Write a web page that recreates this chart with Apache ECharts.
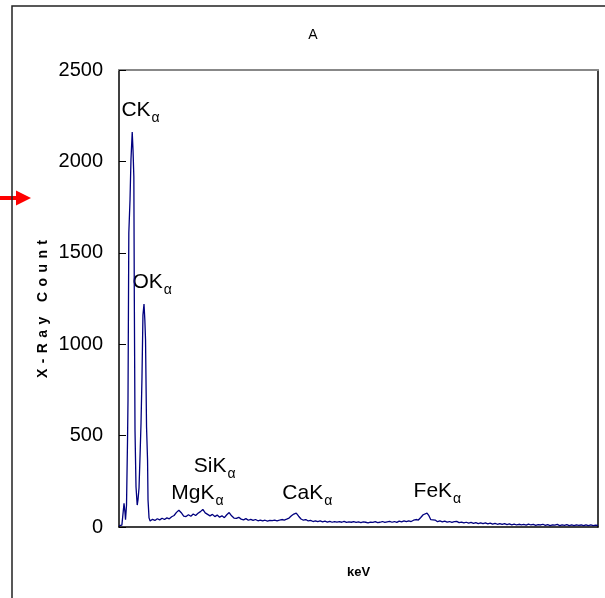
<!DOCTYPE html>
<html>
<head>
<meta charset="utf-8">
<script src="https://cdn.jsdelivr.net/npm/echarts@6/dist/echarts.min.js"></script>
<style>
  html, body { margin: 0; padding: 0; background: #fff; }
  #main { width: 605px; height: 598px; }
</style>
</head>
<body>
<div id="main"></div>
<script>
// EDS spectrum: [keV, X-ray count]
var spectrum = [
  [0.00, 8], [0.06, 10], [0.084, 15], [0.105, 130], [0.125, 80], [0.136, 40],
  [0.157, 120], [0.178, 475], [0.188, 695], [0.205, 1608], [0.23, 1790],
  [0.25, 2010], [0.276, 2160], [0.293, 2060], [0.31, 1915], [0.32, 1240],
  [0.334, 530], [0.355, 220], [0.38, 120], [0.397, 150], [0.418, 213],
  [0.443, 420], [0.46, 570], [0.48, 820], [0.50, 1160], [0.522, 1220],
  [0.54, 1130], [0.554, 1023], [0.575, 547], [0.596, 367], [0.606, 148],
  [0.627, 50], [0.65, 33],
  [0.70, 42], [0.75, 36], [0.80, 45], [0.85, 39], [0.90, 48], [0.95, 41],
  [1.00, 50], [1.05, 45], [1.10, 56], [1.15, 63], [1.20, 80], [1.25, 92],
  [1.30, 78], [1.35, 60], [1.40, 57], [1.45, 67], [1.50, 59], [1.55, 71],
  [1.60, 63], [1.65, 75], [1.70, 84], [1.75, 96], [1.80, 77], [1.85, 69],
  [1.90, 61], [1.95, 69], [2.00, 57], [2.05, 65], [2.10, 54], [2.15, 61],
  [2.20, 51], [2.25, 67], [2.30, 79], [2.35, 61], [2.40, 49], [2.45, 47],
  [2.50, 53], [2.55, 43], [2.60, 39], [2.65, 46], [2.70, 37], [2.75, 42],
  [2.80, 36], [2.85, 41], [2.90, 34], [2.95, 38], [3.00, 33], [3.05, 37],
  [3.10, 32], [3.15, 36], [3.20, 35], [3.25, 38], [3.30, 34], [3.35, 37],
  [3.40, 41], [3.45, 38], [3.50, 43], [3.55, 49], [3.60, 61], [3.65, 71],
  [3.70, 76], [3.75, 59], [3.80, 44], [3.85, 37], [3.90, 41], [3.95, 33],
  [4.00, 36], [4.05, 30], [4.10, 34], [4.15, 29], [4.20, 33], [4.25, 28],
  [4.30, 32], [4.35, 27], [4.40, 31], [4.45, 26], [4.50, 30], [4.55, 27],
  [4.60, 29], [4.65, 26], [4.70, 31], [4.75, 25], [4.80, 28], [4.85, 26],
  [4.90, 29], [4.95, 25], [5.00, 28], [5.05, 24], [5.10, 28], [5.15, 26],
  [5.20, 23], [5.25, 27], [5.30, 25], [5.35, 29], [5.40, 24], [5.45, 26],
  [5.50, 30], [5.55, 25], [5.60, 28], [5.65, 31], [5.70, 26], [5.75, 30],
  [5.80, 25], [5.85, 32], [5.90, 28], [5.95, 33], [6.00, 29], [6.05, 34],
  [6.10, 30], [6.15, 37], [6.20, 41], [6.25, 38], [6.30, 52], [6.35, 67],
  [6.43, 76], [6.47, 62], [6.51, 40], [6.55, 33], [6.60, 38], [6.65, 29],
  [6.70, 33], [6.75, 28], [6.80, 32], [6.85, 27], [6.90, 30], [6.95, 25],
  [7.00, 29], [7.05, 31], [7.10, 24], [7.15, 27], [7.20, 22], [7.25, 26],
  [7.30, 21], [7.35, 25], [7.40, 20], [7.45, 24], [7.50, 19], [7.55, 23],
  [7.60, 18], [7.65, 22], [7.70, 17], [7.75, 21], [7.80, 16], [7.85, 20],
  [7.90, 15], [7.95, 19], [8.00, 14], [8.05, 18], [8.10, 13], [8.15, 17],
  [8.20, 12], [8.25, 16], [8.30, 11], [8.35, 15], [8.40, 12], [8.45, 14],
  [8.50, 10], [8.55, 16], [8.60, 11], [8.65, 14], [8.70, 9], [8.75, 13],
  [8.80, 11], [8.85, 15], [8.90, 9], [8.95, 13], [9.00, 8], [9.05, 12],
  [9.10, 10], [9.15, 14], [9.20, 8], [9.25, 12], [9.30, 9], [9.35, 13],
  [9.40, 8], [9.45, 11], [9.50, 7], [9.55, 12], [9.60, 9], [9.65, 11],
  [9.70, 7], [9.75, 12], [9.80, 8], [9.85, 11], [9.90, 7], [9.95, 10],
  [10.0, 9]
];

var yTicks = [0, 500, 1000, 1500, 2000, 2500];

// peak labels: left edge (keV) and cap centre (count)
var peakNames = ['CK', 'OK', 'MgK', 'SiK', 'CaK', 'FeK'];
var peakLabelKeV = [0.05, 0.28, 1.09, 1.56, 3.41, 6.15];
var peakLabelCount = [2278, 1340, 183, 331, 183, 194];

var yTitle = 'X-Ray Count';

var FONT = "'Liberation Sans', Arial, sans-serif";
var LABEL_SIZE = 21;

var chart = echarts.init(document.getElementById('main'));

var option = {
  animation: false,
  backgroundColor: '#fff',
  grid: { left: 119, right: 7, top: 70, bottom: 71 },
  xAxis: [{
    type: 'value',
    min: 0,
    max: 10,
    name: 'keV',
    nameLocation: 'middle',
    nameGap: 39,
    nameTextStyle: { fontFamily: FONT, fontSize: 13, fontWeight: 'bold', color: '#000' },
    axisLine: { onZero: false, lineStyle: { color: '#000', width: 1.5 } },
    axisTick: { show: false },
    axisLabel: { show: false },
    splitLine: { show: false }
  }, {
    type: 'value',
    position: 'top',
    min: 0,
    max: 10,
    axisLine: { onZero: false, lineStyle: { color: '#888', width: 2 } },
    axisTick: { show: false },
    axisLabel: { show: false },
    splitLine: { show: false }
  }],
  yAxis: [{
    type: 'value',
    min: yTicks[0],
    max: yTicks[yTicks.length - 1],
    interval: 500,
    axisLine: { onZero: false, lineStyle: { color: '#000', width: 1.5 } },
    axisTick: { inside: true, length: 7, lineStyle: { color: '#000' } },
    axisLabel: {
      fontFamily: FONT, fontSize: 20, color: '#000', margin: 16,
      formatter: function (v) { return String(v); }
    },
    splitLine: { show: false }
  }, {
    type: 'value',
    position: 'right',
    min: yTicks[0],
    max: yTicks[yTicks.length - 1],
    axisLine: { show: true, onZero: false, lineStyle: { color: '#000', width: 1.5 } },
    axisTick: { show: false },
    axisLabel: { show: false },
    splitLine: { show: false }
  }],
  series: [{
    type: 'line',
    data: spectrum,
    xAxisIndex: 0,
    yAxisIndex: 0,
    showSymbol: false,
    lineStyle: { color: '#00007f', width: 1.3 },
    silent: true
  }]
};

chart.setOption(option);

// spaced-out y title: one rich token per letter
var yTitleRich = yTitle.split('').map(function (ch) { return '{c|' + ch + '}'; }).join('');

var graphics = [
  // red arrow on the left
  { type: 'rect', shape: { x: 0, y: 196, width: 17, height: 4 }, style: { fill: '#ff0000' } },
  { type: 'polygon', shape: { points: [[16, 190.5], [31, 198], [16, 205.5]] }, style: { fill: '#ff0000' } },
  // outer frame
  { type: 'rect', shape: { x: 12, y: 6, width: 620, height: 620 }, style: { fill: 'none', stroke: '#222', lineWidth: 1.5 } },
  // title
  { type: 'text', x: 313, y: 35, style: { text: 'A', fontFamily: FONT, fontSize: 14, fill: '#000', align: 'center', verticalAlign: 'middle' } },
  // y axis title
  {
    type: 'text', x: 43, y: 309, rotation: Math.PI / 2,
    style: {
      text: yTitleRich, align: 'center', verticalAlign: 'middle',
      rich: { c: { fontFamily: FONT, fontSize: 14, fontWeight: 'bold', fill: '#000', padding: [0, 2.7, 0, 2.7] } }
    }
  }
];

var ctx = document.createElement('canvas').getContext('2d');
ctx.font = LABEL_SIZE + 'px ' + FONT;

for (var i = 0; i < peakNames.length; i++) {
  var p = chart.convertToPixel({ gridIndex: 0 }, [peakLabelKeV[i], peakLabelCount[i]]);
  var w = ctx.measureText(peakNames[i]).width;
  graphics.push({
    type: 'text',
    x: p[0],
    y: p[1] - 11,
    style: {
      text: peakNames[i], fontFamily: FONT, fontSize: LABEL_SIZE, lineHeight: 22,
      align: 'left', verticalAlign: 'top', fill: '#000'
    }
  });
  graphics.push({
    type: 'text',
    x: p[0] + w + 1,
    y: p[1] + 8,
    style: {
      text: 'α', fontFamily: FONT, fontSize: 14,
      align: 'left', verticalAlign: 'middle', fill: '#000'
    }
  });
}

chart.setOption({ graphic: graphics });
</script>
</body>
</html>
